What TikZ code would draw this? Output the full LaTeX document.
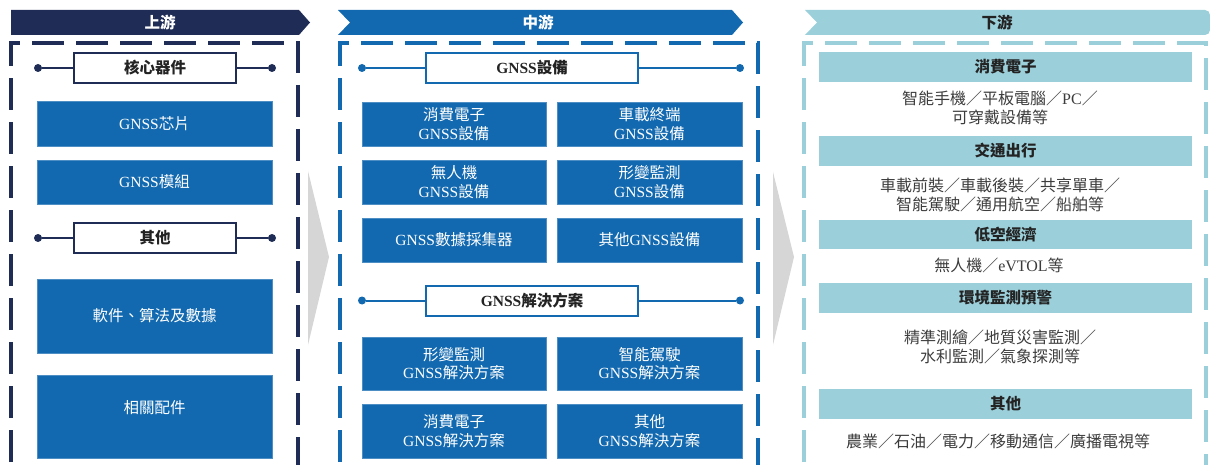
\documentclass[tikz,border=0pt]{standalone}
\usepackage{fontspec}
\setmainfont{Noto Sans CJK TC}
\newfontfamily\latf{Liberation Serif}
\definecolor{navy}{RGB}{31,45,86}
\definecolor{blueC}{RGB}{18,105,176}
\definecolor{tealC}{RGB}{155,207,218}
\definecolor{grayA}{RGB}{214,214,214}
\definecolor{txt}{RGB}{35,35,35}
\definecolor{bodytxt}{RGB}{60,60,60}
\begin{document}
\begin{tikzpicture}[x=1pt,y=-1pt,
  ban/.style={font=\fontsize{15.5}{18}\selectfont\bfseries, inner sep=0},
  dashbox/.style={line width=3.5pt, dash pattern=on 32pt off 12pt},
  hdr/.style={draw, line width=2pt, fill=white, minimum width=162pt, minimum height=30pt, inner sep=0, font=\fontsize{15.5}{18}\selectfont\bfseries, text=txt},
  hdrM/.style={hdr, minimum width=212pt},
  dotn/.style={circle, fill, inner sep=0, minimum size=8pt},
  conn/.style={line width=2pt},
  bbox/.style={fill=blueC, draw=blueC!75!white, line width=0.6pt, text=white, inner sep=0, align=center, font=\fontsize{15.5}{18.5}\selectfont},
  lbox/.style={bbox, minimum width=235pt},
  mboxL/.style={bbox, minimum width=184pt},
  mboxR/.style={bbox, minimum width=185pt},
  wtext/.style={text=white, inner sep=0, font=\fontsize{15.5}{18.5}\selectfont},
  tbar/.style={fill=tealC, minimum width=373pt, inner sep=0, font=\fontsize{15.5}{18}\selectfont\bfseries, text=txt},
  body/.style={align=center, inner sep=0, text=bodytxt, font=\fontsize{16}{19.5}\selectfont},
]
\useasboundingbox (0,0) rectangle (1210,465);

% ---------- banners ----------
\fill[navy] (11,10) -- (299,10) -- (310,22.5) -- (299,35) -- (11,35) -- cycle;
\node[ban, text=white] (up) at (160,22.5) {上游};
\fill[blueC] (338,10) -- (732,10) -- (743,22.5) -- (732,35) -- (338,35) -- (350,22.5) -- cycle;
\node[ban, text=white] (mid) at (538,22.5) {中游};
\fill[tealC] (817,22.5) -- (805,10) -- (1205,10) to[out=0,in=90] (1210,15) -- (1210,30) to[out=-90,in=0] (1205,35) -- (805,35) -- cycle;
\node[ban, text=txt] (down) at (997,22.5) {下游};

% ---------- dashed frames ----------
\draw[dashbox, navy] (11,506) -- (11,43) -- (298,43) -- (298,506);
\draw[dashbox, blueC] (340,506) -- (340,43) -- (758,43) -- (758,506);
\draw[dashbox, tealC] (804,506) -- (804,43) -- (1206,43) -- (1206,506);

% ---------- gray arrows ----------
\fill[grayA] (308,171) -- (329,257) -- (308,345) -- cycle;
\fill[grayA] (773,172) -- (794,257) -- (773,345) -- cycle;

% ---------- upstream ----------
\node[hdr, draw=navy] (core) at (155,68) {核心器件};
\node[dotn, navy] (coreL) at (38,68) {};
\node[dotn, navy] (coreR) at (272,68) {};
\draw[conn, navy] (coreL) -- (core);
\draw[conn, navy] (core) -- (coreR);

\node[lbox, minimum height=45pt] (chip) at (154.5,123.5) {{\latf GNSS}芯片};
\node[lbox, minimum height=44pt] (module) at (154.5,182) {{\latf GNSS}模組};

\node[hdr, draw=navy] (other) at (155,238) {其他};
\node[dotn, navy] (otherL) at (38,238) {};
\node[dotn, navy] (otherR) at (272,238) {};
\draw[conn, navy] (otherL) -- (other);
\draw[conn, navy] (other) -- (otherR);

\node[lbox, minimum height=74pt] (soft) at (154.5,316) {軟件、算法及數據};
\node[lbox, minimum height=83pt] (acc) at (154.5,416.5) {};
\node[wtext] (acct) at ([yshift=8.5pt]acc.center) {相關配件};

% ---------- midstream ----------
\node[hdrM, draw=blueC] (dev) at (532,68) {{\latf GNSS}設備};
\node[dotn, blueC] (devL) at (362,68) {};
\node[dotn, blueC] (devR) at (740,68) {};
\draw[conn, blueC] (devL) -- (dev);
\draw[conn, blueC] (dev) -- (devR);

\node[mboxL, minimum height=44pt] (d1) at (454,124) {消費電子\\{\latf GNSS}設備};
\node[mboxR, minimum height=44pt] (d2) at (649.5,124) {車載終端\\{\latf GNSS}設備};
\node[mboxL, minimum height=44pt] (d3) at (454,182) {無人機\\{\latf GNSS}設備};
\node[mboxR, minimum height=44pt] (d4) at (649.5,182) {形變監測\\{\latf GNSS}設備};
\node[mboxL, minimum height=44pt] (d5) at (454,240) {{\latf GNSS}數據採集器};
\node[mboxR, minimum height=44pt] (d6) at (649.5,240) {其他{\latf GNSS}設備};

\node[hdrM, draw=blueC] (sol) at (532,300.5) {{\latf GNSS}解決方案};
\node[dotn, blueC] (solL) at (362,300.5) {};
\node[dotn, blueC] (solR) at (740,300.5) {};
\draw[conn, blueC] (solL) -- (sol);
\draw[conn, blueC] (sol) -- (solR);

\node[mboxL, minimum height=53pt] (s1) at (454,363.5) {形變監測\\{\latf GNSS}解決方案};
\node[mboxR, minimum height=53pt] (s2) at (649.5,363.5) {智能駕駛\\{\latf GNSS}解決方案};
\node[mboxL, minimum height=54pt] (s3) at (454,431) {消費電子\\{\latf GNSS}解決方案};
\node[mboxR, minimum height=54pt] (s4) at (649.5,431) {其他\\{\latf GNSS}解決方案};

% ---------- downstream ----------
\node[tbar, minimum height=30pt] (ce) at (1005.5,67) {消費電子};
\node[body] (ceb) at (1000,108) {智能手機／平板電腦／{\latf PC}／\\可穿戴設備等};
\node[tbar, minimum height=30pt] (tr) at (1005.5,151) {交通出行};
\node[body] (trb) at (1000,195) {車載前裝／車載後裝／共享單車／\\智能駕駛／通用航空／船舶等};
\node[tbar, minimum height=29pt] (la) at (1005.5,234.5) {低空經濟};
\node[body] (lab) at (999,265) {無人機／{\latf eVTOL}等};
\node[tbar, minimum height=30pt] (env) at (1005.5,298) {環境監測預警};
\node[body] (envb) at (1000,347) {精準測繪／地質災害監測／\\水利監測／氣象探測等};
\node[tbar, minimum height=30pt] (oth) at (1005.5,404) {其他};
\node[body] (othb) at (998,441) {農業／石油／電力／移動通信／廣播電視等};
\end{tikzpicture}
\end{document}
